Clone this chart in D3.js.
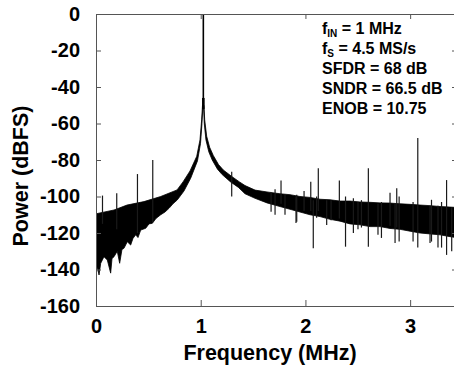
<!DOCTYPE html>
<html>
<head>
<meta charset="utf-8">
<script src="https://cdn.jsdelivr.net/npm/d3@7"></script>
<style>
  body { margin: 0; background: #fff; }
  text { font-family: "Liberation Sans", Arial, sans-serif; }
</style>
</head>
<body>
<div id="chart"></div>
<script>
// Data (MHz, dBFS)
const xTicks = [0, 1, 2, 3]
const yTicks = [0, -20, -40, -60, -80, -100, -120, -140, -160]

// top edge of the noise band (left to right)
const upperFreq = [0, 0.038, 0.172, 0.296, 0.458, 0.618, 0.774, 0.831, 0.898, 0.962, 0.993, 1.009, 1.017,
  1.031, 1.038, 1.057, 1.085, 1.120, 1.170, 1.216, 1.296, 1.370, 1.423, 1.519, 1.633, 1.757, 1.853, 1.948, 2.044,
  2.139, 2.235, 2.330, 2.426, 2.521, 2.617, 2.713, 2.808, 2.904, 2.999, 3.095, 3.190, 3.286, 3.381, 3.44]
const upperDb = [-109.5, -109, -107.4, -104.7, -102.8, -100, -96.4, -92, -86, -78, -69, -58, -50,
  -50, -58, -67, -73, -77.5, -82.5, -85.5, -89, -92, -94, -96.5, -97.5, -98.5, -99, -100, -100.5,
  -101.5, -101.8, -102.5, -102.5, -103, -103.2, -103.5, -103.6, -104, -104.3, -104.7, -105, -105.5, -105.8, -106]

// bottom edge of the noise band (left to right)
const lowerFreq = [0, 0.012, 0.029, 0.045, 0.076, 0.108, 0.140, 0.153, 0.172, 0.203, 0.226, 0.248, 0.267, 0.299,
  0.331, 0.353, 0.379, 0.401, 0.427, 0.475, 0.506, 0.538, 0.573, 0.618, 0.659, 0.697, 0.735, 0.776, 0.840, 0.904,
  0.969, 0.998, 1.012, 1.019, 1.028, 1.034, 1.050, 1.077, 1.110, 1.160, 1.205, 1.285, 1.360, 1.423,
  1.519, 1.633, 1.757, 1.853, 1.948, 2.044, 2.139, 2.235, 2.330, 2.426, 2.521, 2.617, 2.713, 2.808, 2.904, 2.999,
  3.095, 3.190, 3.286, 3.381, 3.44]
const lowerDb = [-144, -138.5, -143, -136.6, -133, -134.8, -142, -134, -133, -130, -136.6, -129, -128.4, -124.8,
  -126.6, -123, -121, -122.5, -118.4, -117.4, -115, -114.7, -112, -110, -108.5, -106.5, -104, -101.9, -97, -90,
  -80.5, -71, -60, -52, -52, -60, -69, -75.5, -80, -85, -88, -92, -95, -98.5,
  -101, -103.5, -105.5, -107, -108.5, -110, -111, -112.5, -113.5, -115, -115.5, -116.5, -116.5, -117.5, -118, -119,
  -120, -120.5, -121, -122, -122.5]

// spurs and noise fingers: frequency, top, bottom
const spurFreq = [0.062, 0.198, 0.396, 0.542, 1.296, 1.710, 1.767, 1.917, 1.987, 2.051, 2.075, 2.123, 2.324, 2.383,
  2.601, 2.808, 2.872, 3.073, 3.348, 2.458, 2.535, 2.726, 2.895, 3.028, 3.204, 3.300, 1.672, 1.805, 2.107,
  2.203, 2.245, 2.502, 2.693, 2.856, 3.190, 3.266, 3.397, 1.910]
const spurTop = [-99.5, -98.2, -87.7, -80, -86.4, -96, -91.3, -99, -97, -91.9, -102, -84.5, -91.3, -100,
  -84.5, -98, -95.5, -68, -91, -101, -102, -103, -100, -103, -101.8, -103, -98, -99, -100,
  -102, -102, -103, -104, -104, -105, -105, -106, -100]
const spurBottom = [-115, -118, -120, -114, -100, -110, -104, -113.8, -108, -108, -128.4, -108, -112, -127.5,
  -127.5, -116, -117, -128, -132, -120, -117, -122.7, -124.7, -124.7, -124.7, -128, -108.3, -110, -111.7,
  -115.6, -113, -118, -121, -125.5, -125.5, -128, -130, -114.5]

const peakFreq = 1.025
const peakDb = 0
const peakFoot = -52

const notes = [
  { main: 'f', sub: 'IN', rest: ' = 1 MHz' },
  { main: 'f', sub: 'S', rest: ' = 4.5 MS/s' },
  { main: 'SFDR = 68 dB', sub: '', rest: '' },
  { main: 'SNDR = 66.5 dB', sub: '', rest: '' },
  { main: 'ENOB = 10.75', sub: '', rest: '' },
]

// Dimensions
const width = 454, height = 368
const plot = { left: 96, top: 14, right: 456, bottom: 306 }

const svg = d3.select('#chart')
  .append('svg')
  .attr('width', width)
  .attr('height', height)

svg.append('rect').attr('width', width).attr('height', height).attr('fill', '#fff')

// scales
const x = d3.scaleLinear().domain([0, 3.438]).range([plot.left, plot.right])
const y = d3.scaleLinear().domain([-160, 0]).range([plot.bottom, plot.top])

svg.append('clipPath').attr('id', 'clip')
  .append('rect')
  .attr('x', plot.left).attr('y', plot.top)
  .attr('width', plot.right - plot.left).attr('height', plot.bottom - plot.top)

const g = svg.append('g').attr('clip-path', 'url(#clip)')

// noise band as one closed polygon: top edge forward, bottom edge back
const band = upperFreq.map((f, i) => [f, upperDb[i]])
  .concat(lowerFreq.map((f, i) => [f, lowerDb[i]]).reverse())

g.append('path')
  .attr('d', d3.line().x(d => x(d[0])).y(d => y(d[1]))(band) + 'Z')
  .attr('fill', '#000')
  .attr('stroke', '#000')
  .attr('stroke-width', 0.8)
  .attr('stroke-linejoin', 'round')

g.selectAll('line.spur')
  .data(spurFreq)
  .join('line')
  .attr('class', 'spur')
  .attr('x1', d => x(d)).attr('x2', d => x(d))
  .attr('y1', (d, i) => y(spurTop[i]))
  .attr('y2', (d, i) => y(spurBottom[i]))
  .attr('stroke', '#1a1a1a')
  .attr('stroke-width', 1.2)

// carrier
g.append('line')
  .attr('x1', x(peakFreq)).attr('x2', x(peakFreq))
  .attr('y1', y(peakDb)).attr('y2', y(peakFoot))
  .attr('stroke', '#000')
  .attr('stroke-width', 1.6)
g.append('line')
  .attr('x1', x(peakFreq)).attr('x2', x(peakFreq))
  .attr('y1', y(-46)).attr('y2', y(peakFoot))
  .attr('stroke', '#000')
  .attr('stroke-width', 2.6)

// axes
const axisColor = '#555'
const axLeft = svg.append('g')
  .attr('transform', `translate(${plot.left},0)`)
  .call(d3.axisLeft(y).tickValues(yTicks).tickSize(-5).tickPadding(16).tickFormat(d => String(d)))
const axBottom = svg.append('g')
  .attr('transform', `translate(0,${plot.bottom})`)
  .call(d3.axisBottom(x).tickValues(xTicks).tickSize(-6).tickPadding(13).tickFormat(d => String(d)))
const axTop = svg.append('g')
  .attr('transform', `translate(0,${plot.top})`)
  .call(d3.axisTop(x).tickValues(xTicks).tickSize(-5).tickFormat(''))
const axRight = svg.append('g')
  .attr('transform', `translate(${plot.right},0)`)
  .call(d3.axisRight(y).tickValues(yTicks).tickSize(-4).tickFormat(''))

for (const a of [axLeft, axBottom, axTop, axRight]) {
  a.select('.domain').remove()
  a.selectAll('.tick line').attr('stroke', axisColor)
  a.selectAll('text')
    .attr('fill', '#000')
    .attr('font-size', 20)
    .attr('font-weight', 'bold')
    .attr('font-family', '"Liberation Sans", Arial, sans-serif')
}

svg.append('rect')
  .attr('x', plot.left + 0.5).attr('y', plot.top + 0.5)
  .attr('width', plot.right - plot.left).attr('height', plot.bottom - plot.top)
  .attr('fill', 'none')
  .attr('stroke', axisColor)
  .attr('stroke-width', 1)

// axis titles
svg.append('text')
  .attr('x', 270).attr('y', 360)
  .attr('text-anchor', 'middle')
  .attr('font-size', 21.5)
  .attr('font-weight', 'bold')
  .text('Frequency (MHz)')

svg.append('text')
  .attr('transform', 'translate(28,176) rotate(-90)')
  .attr('text-anchor', 'middle')
  .attr('font-size', 21.5)
  .attr('font-weight', 'bold')
  .text('Power (dBFS)')

// annotation
const note = svg.append('g')
  .attr('font-size', 16)
  .attr('font-weight', 'bold')
note.selectAll('text')
  .data(notes)
  .join('text')
  .attr('x', 322)
  .attr('y', (d, i) => 34 + i * 20)
  .each(function (d) {
    const t = d3.select(this)
    t.append('tspan').text(d.main)
    if (d.sub) t.append('tspan').attr('font-size', 10).attr('dy', 3).text(d.sub)
    if (d.rest) t.append('tspan').attr('dy', d.sub ? -3 : 0).text(d.rest)
  })
</script>
</body>
</html>
